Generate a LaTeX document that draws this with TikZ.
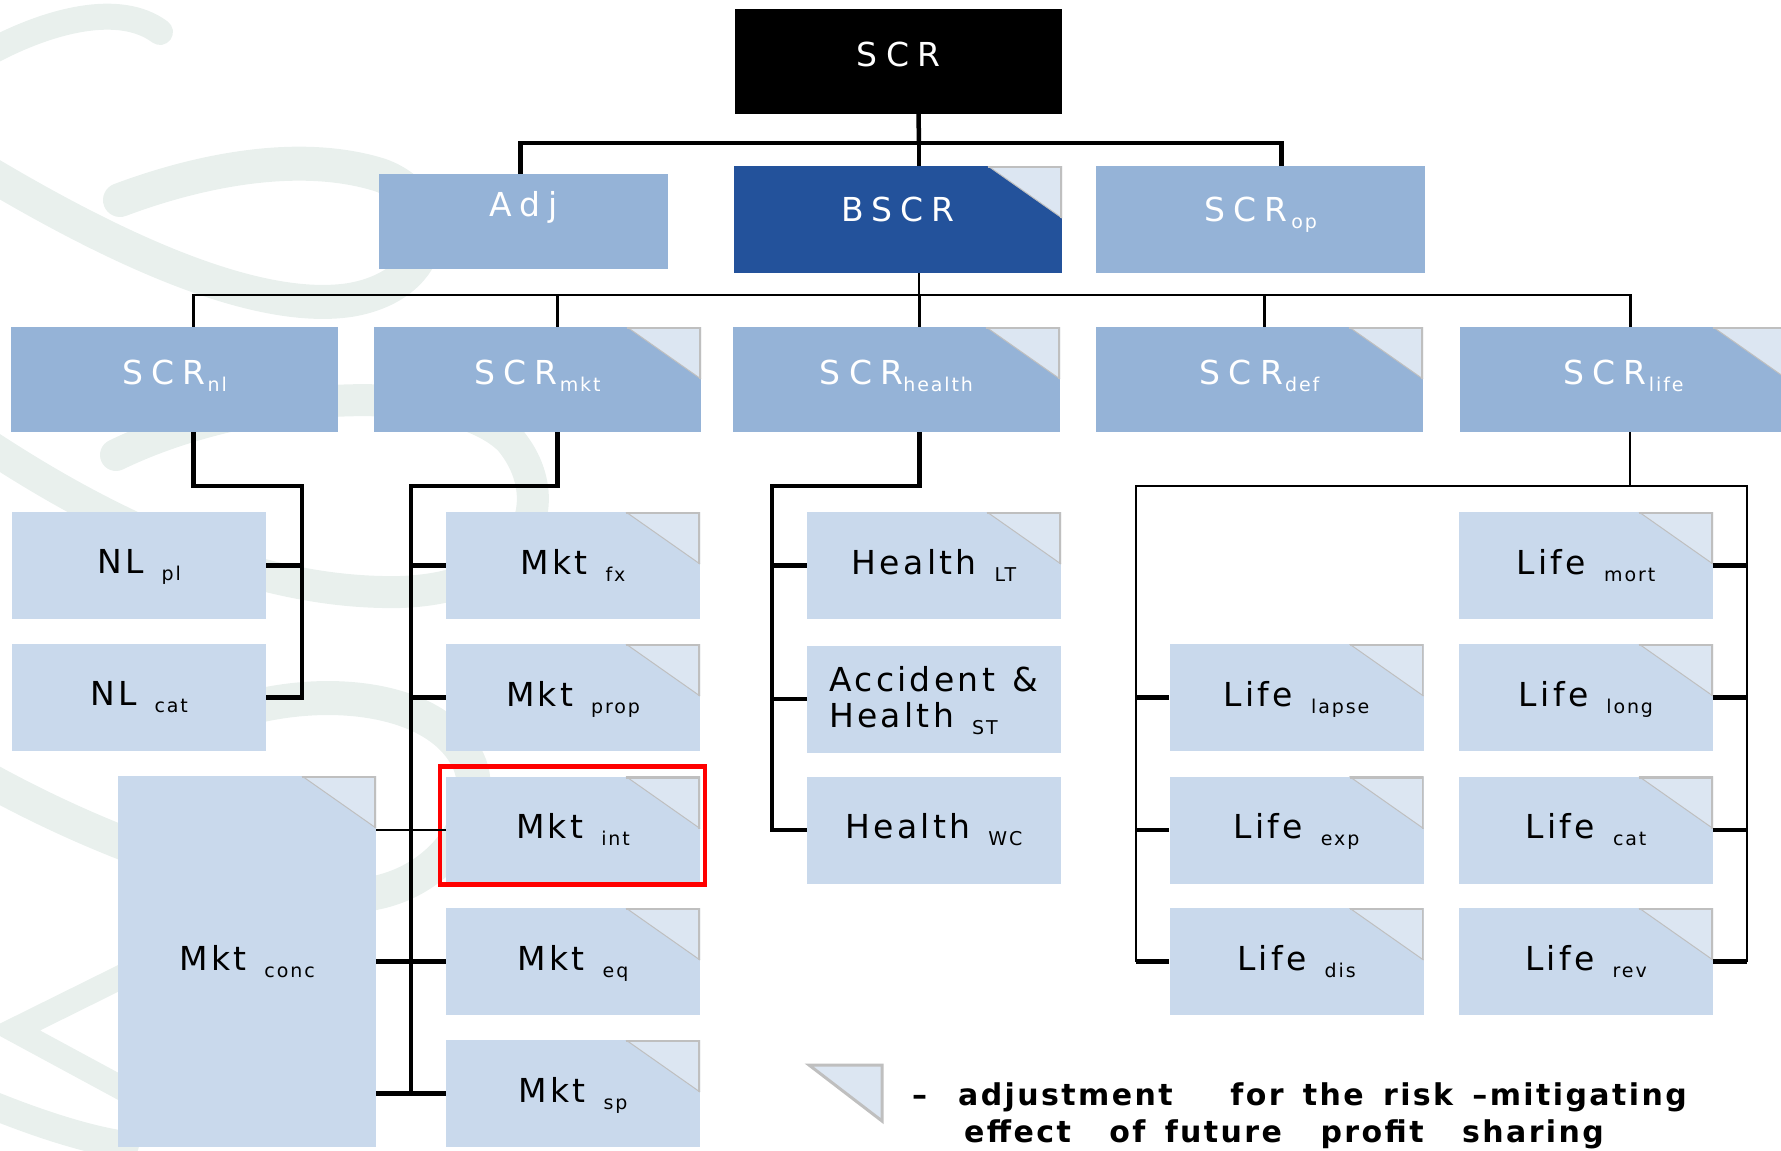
\documentclass[tikz,border=0pt]{standalone}
\usepackage{fontspec}
\setmainfont{DejaVu Sans}
\newfontfamily\boxfont[LetterSpace=10]{DejaVu Sans}
\newfontfamily\topfont[LetterSpace=25]{DejaVu Sans}
\newfontfamily\legendfont[LetterSpace=8, WordSpace=1.5]{DejaVu Sans}
\usetikzlibrary{positioning}

\definecolor{scrblue}{HTML}{95B3D7}
\definecolor{riskblue}{HTML}{C9D9EC}
\definecolor{bscrblue}{HTML}{23529B}
\definecolor{flapfill}{HTML}{DCE6F2}
\definecolor{flapline}{HTML}{BFBFBF}
\definecolor{swirl}{HTML}{E9F0ED}

% main text, gap, lowered subscript
\newcommand{\modlabel}[3][18pt]{{\fontsize{33}{38}\selectfont #2}\hspace{#1}\raisebox{-7pt}{\boxfont\fontsize{19}{22}\selectfont #3}}

\tikzset{
  module/.style={rectangle, inner sep=0pt, font=\boxfont\fontsize{33}{36}\selectfont},
  topmod/.style={module, font=\topfont\fontsize{33}{36}\selectfont, fill=scrblue, text=white,
    minimum width=327pt, minimum height=105pt, text depth=14pt},
  riskmod/.style={module, fill=riskblue, text=black, minimum width=254pt, minimum height=107pt, text depth=8pt},
  flap/.style={path picture={
      \fill[flapfill] ([xshift=-74pt]path picture bounding box.north east) -- (path picture bounding box.north east)
        -- ([yshift=-52pt]path picture bounding box.north east) -- cycle;
      \draw[flapline, line width=4pt] ([xshift=-74pt]path picture bounding box.north east) -- (path picture bounding box.north east)
        -- ([yshift=-52pt]path picture bounding box.north east);
      \draw[flapline, line width=1pt] ([xshift=-74pt]path picture bounding box.north east)
        -- ([yshift=-52pt]path picture bounding box.north east);}},
  link/.style={line width=4.5pt},
  thinlink/.style={line width=2.8pt},
  swoosh/.style={swirl, line width=#1, line cap=round},
  highlight/.style={red, line width=4.5pt}
}

\begin{document}
\begin{tikzpicture}[x=1pt, y=-1pt]
  \useasboundingbox (0,0) rectangle (1781,1151);

  % background swirl
  \draw[swoosh=26pt] (-10,52) .. controls (50,20) and (120,2) .. (160,32);
  \draw[swoosh=34pt] (-20,168) .. controls (100,240) and (250,315) .. (350,300)
    .. controls (440,285) and (450,200) .. (380,175) .. controls (300,150) and (200,170) .. (120,200);
  \draw[swoosh=32pt] (-20,440) .. controls (100,520) and (250,595) .. (400,592)
    .. controls (530,588) and (560,500) .. (510,440) .. controls (450,380) and (250,390) .. (116,455);
  \draw[swoosh=34pt] (-20,775) .. controls (60,820) and (200,885) .. (330,895)
    .. controls (430,905) and (490,820) .. (470,765) .. controls (440,690) and (300,680) .. (200,725);
  \draw[swoosh=24pt] (125,975) -- (14,1030) -- (125,1090);
  \draw[swoosh=28pt] (-20,1100) .. controls (40,1125) and (90,1140) .. (125,1145);

  % top levels
  \node[topmod, fill=black] (scr) at (898.5,61.5) {SCR};
  \node[topmod, minimum width=289pt, minimum height=95pt, text depth=36pt] (adj) at (523.5,221.5) {Adj};
  \node[topmod, fill=bscrblue, minimum width=328pt, minimum height=107pt, text depth=20pt, flap] (bscr) at (898,219.5) {BSCR};
  \node[topmod, minimum width=329pt, minimum height=107pt, text depth=20pt] (scrop) at (1260.5,219.5) {\modlabel[4pt]{SCR}{op}};

  \node[topmod] (scrnl) at (174.5,379.5) {\modlabel[2pt]{SCR}{nl}};
  \node[topmod, flap] (scrmkt) at (537.5,379.5) {\modlabel[2pt]{SCR}{mkt}};
  \node[topmod, flap] (scrhealth) at (896.5,379.5) {\modlabel[0pt]{SCR}{health}};
  \node[topmod, flap] (scrdef) at (1259.5,379.5) {\modlabel[2pt]{SCR}{def}};
  \node[topmod, flap] (scrlife) at (1623.5,379.5) {\modlabel[2pt]{SCR}{life}};

  % non-life
  \node[riskmod] (nlpl) at (139,565.5) {\modlabel{NL}{pl}};
  \node[riskmod] (nlcat) at (139,697.5) {\modlabel{NL}{cat}};

  % market
  \node[riskmod, flap] (mktfx) at (573,565.5) {\modlabel{Mkt}{fx}};
  \node[riskmod, flap] (mktprop) at (573,697.5) {\modlabel{Mkt}{prop}};
  \node[riskmod, flap] (mktint) at (573,830) {\modlabel{Mkt}{int}};
  \node[riskmod, flap] (mkteq) at (573,961.5) {\modlabel{Mkt}{eq}};
  \node[riskmod, flap] (mktsp) at (573,1093.5) {\modlabel{Mkt}{sp}};
  \node[riskmod, flap, minimum width=258pt, minimum height=371pt] (mktconc) at (247,961.5) {\modlabel{Mkt}{conc}};

  % health
  \node[riskmod, flap] (healthlt) at (934,565.5) {\modlabel{Health}{LT}};
  \node[riskmod, align=left, text depth=4pt] (healthst) at (934,699) {Accident\hspace{18pt}\&\\\modlabel{Health}{ST}};
  \node[riskmod] (healthwc) at (934,830) {\modlabel{Health}{WC}};

  % life
  \node[riskmod, flap] (lifemort) at (1586,565.5) {\modlabel{Life}{mort}};
  \node[riskmod, flap] (lifelapse) at (1296.5,697.5) {\modlabel{Life}{lapse}};
  \node[riskmod, flap] (lifelong) at (1586,697.5) {\modlabel{Life}{long}};
  \node[riskmod, flap] (lifeexp) at (1296.5,830) {\modlabel{Life}{exp}};
  \node[riskmod, flap] (lifecat) at (1586,830) {\modlabel{Life}{cat}};
  \node[riskmod, flap] (lifedis) at (1296.5,961.5) {\modlabel{Life}{dis}};
  \node[riskmod, flap] (liferev) at (1586,961.5) {\modlabel{Life}{rev}};

  \draw[highlight] ([xshift=-6pt,yshift=10pt]mktint.north west) rectangle ([xshift=5pt,yshift=-1pt]mktint.south east);

  % connectors
  \coordinate (topbus) at (919,143);
  \draw[link] ([xshift=20pt]scr.south) -- (topbus);
  \draw[link] (topbus) -| ([xshift=-3pt]adj.north);
  \draw[link] (topbus) -- ([xshift=21pt]bscr.north);
  \draw[link] (topbus) -| ([xshift=21pt]scrop.north);

  \coordinate (riskbus) at (919,295);
  \draw[thinlink] ([xshift=21pt]bscr.south) -- (riskbus);
  \foreach \m/\dx in {scrnl/19, scrmkt/20, scrhealth/23, scrdef/5, scrlife/7}
    \draw[thinlink] (riskbus) -| ([xshift=\dx pt]\m.north);

  \coordinate (nlbus) at (302,486);
  \draw[link] ([xshift=19pt]scrnl.south) |- (nlbus) |- (nlcat.east);
  \draw[link] (nlpl.east) -- (nlpl.east -| nlbus);

  \coordinate (mktbus) at (411,486);
  \draw[link] ([xshift=20pt]scrmkt.south) |- (mktbus) |- (mktsp.west);
  \foreach \m in {mktfx, mktprop}
    \draw[link] (\m.west -| mktbus) -- (\m.west);
  \draw[thinlink] (mktconc.east |- mktint.west) -- (mktint.west);
  \draw[link] (mktconc.east |- mkteq.west) -- (mkteq.west);
  \draw[link] (mktconc.east |- mktsp.west) -- (mktsp.west);

  \coordinate (healthbus) at (772,486);
  \draw[link] ([xshift=23pt]scrhealth.south) |- (healthbus) |- (healthwc.west);
  \foreach \m in {healthlt, healthst}
    \draw[link] (\m.west -| healthbus) -- (\m.west);

  \coordinate (lifestem) at (1630,486);
  \coordinate (lifeleft) at (1136,486);
  \coordinate (liferight) at (1747,486);
  \draw[thinlink] (lifestem |- scrlife.south) -- (lifestem);
  \draw[thinlink] (lifeleft |- lifedis.west) -- (lifeleft) -- (liferight) -- (liferight |- liferev.east);
  \foreach \m in {lifelapse, lifeexp, lifedis}
    \draw[link] (\m.west -| lifeleft) -- (\m.west);
  \foreach \m in {lifemort, lifelong, lifecat, liferev}
    \draw[link] (\m.east) -- (\m.east -| liferight);

  % legend
  \filldraw[fill=flapfill, draw=flapline, line width=3pt] (809,1065) -- (882,1065) -- (882,1121) -- cycle;
  \node[anchor=north west, inner sep=0pt, align=left, font=\legendfont\bfseries\fontsize{30}{37}\selectfont] (legend) at (912,1082)
    {\makebox[46pt][l]{–}adjustment\ \ \ for the risk –mitigating\\\makebox[52pt]{}effect\ \ of future\ \ profit\ \ sharing};
\end{tikzpicture}
\end{document}
